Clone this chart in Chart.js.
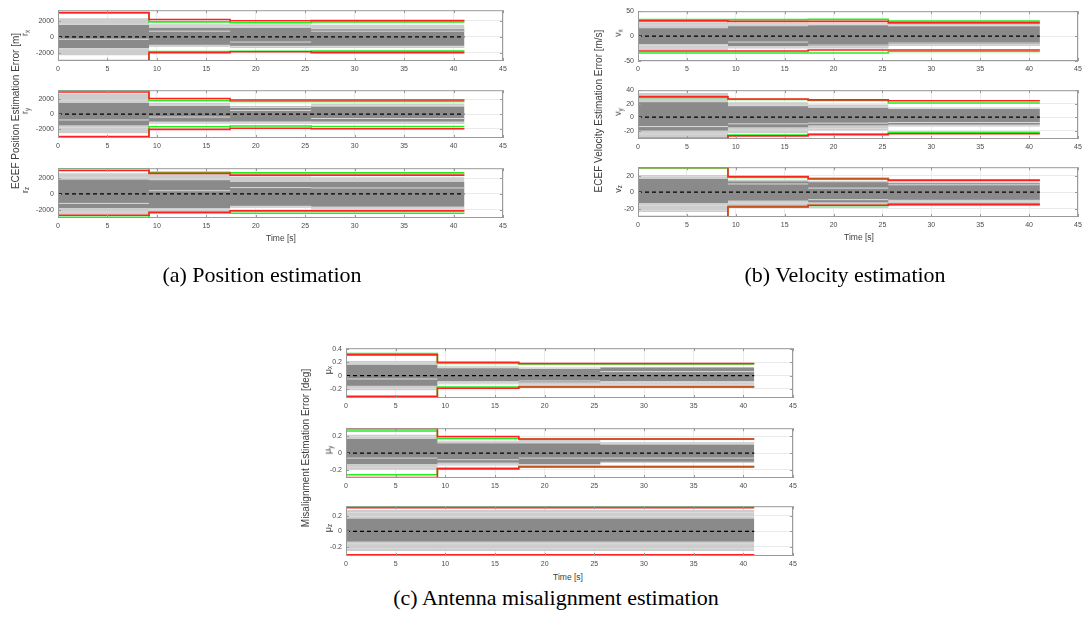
<!DOCTYPE html>
<html>
<head>
<meta charset="utf-8">
<script src="https://cdn.jsdelivr.net/npm/chart.js@4.4.0/dist/chart.umd.min.js"></script>
<style>
  html, body { margin: 0; padding: 0; background: #fff; width: 1089px; height: 627px; overflow: hidden; position: relative; }
  canvas { position: absolute; }
  .lbl { position: absolute; font-family: 'Liberation Sans', Arial, sans-serif; color: #3c3c3c; white-space: nowrap; transform: translate(-50%, -50%); }
  .rot { transform: translate(-50%, -50%) rotate(-90deg); }
  .cap { position: absolute; font-family: 'Liberation Serif', 'Times New Roman', serif; font-size: 22px; color: #000; white-space: nowrap; transform: translate(-50%, -50%); }
  sub { font-size: 70%; vertical-align: -0.25em; }
</style>
</head>
<body>
<script>
// --- data: segment change times and per-segment levels (upper row, lower row) ---
const segT = [0, 9.2, 17.4, 25.6, 41.1];
const xTicks = [0, 5, 10, 15, 20, 25, 30, 35, 40, 45];
const meanErr = [0, 0, 0, 0];

const rTicks = [-2000, 0, 2000];
const rxLim = [-3000, 3300];
const rxRed = [[3000, 2150, 2000, 2030], [-3000, -1960, -1850, -1960]];
const rxGreen = [[2980, 1850, 1740, 1850], [-2950, -1815, -1800, -1780]];
const rxOuter = [[2300, 1550, 1550, 1500], [-2300, -1250, -1400, -1400]];
const rxInner = [[1500, 1100, 1100, 1000], [-1400, -1000, -1100, -1100]];
const rxStreaks = [[1550, 1300, 1250, 1000], [-300, 700, -650, 700], [-1500, -1150, -1200, -1200]];

const ryLim = [-3250, 3250];
const ryRed = [[3000, 2120, 1925, 1925], [-3040, -2080, -1925, -2000]];
const ryGreen = [[3220, 1850, 1730, 1730], [-3250, -1730, -1620, -1690]];
const ryOuter = [[2800, 1500, 1100, 1450], [-2600, -1300, -1300, -1350]];
const ryInner = [[1500, 1100, 1000, 1000], [-1500, -1000, -1000, -1000]];
const ryStreaks = [[1900, 1250, 900, 1150], [-800, -400, 500, -600], [-1800, -1150, -1100, -1150]];

const rzLim = [-3050, 3250];
const rzRed = [[2960, 2590, 2370, 2370], [-2700, -2330, -2150, -2150]];
const rzGreen = [[3220, 2740, 2660, 2660], [-2960, -2400, -2440, -2440]];
const rzOuter = [[2600, 2480, 2200, 2100], [-2600, -2330, -1800, -2150]];
const rzInner = [[1800, 1740, 1500, 1500], [-1800, -1780, -1500, -1600]];
const rzStreaks = [[2100, 1900, 800, 750], [-1200, 400, -1650, -1800], [-2300, -2000, -1700, -1950]];

const vxTicks = [-50, 0, 50];
const vxLim = [-50, 50];
const vxRed = [[30.5, 29.5, 29.5, 26.5], [-30, -30, -28, -28]];
const vxGreen = [[33, 33, 33.5, 30], [-34, -34, -34, -31]];
const vxOuter = [[28, 27, 26, 25], [-28, -25, -25, -20]];
const vxInner = [[16, 20, 22, 20], [-16, -20, -22, -18]];
const vxStreaks = [[22, 24, 23, 21], [-19, -12, -18, -14], [-24, -22, -21, -17]];

const vyTicks = [-20, 0, 20, 40];
const vyLim = [-32.5, 40];
const vyRed = [[30.4, 27, 25.7, 24.4], [-31.3, -27.8, -26, -24.8]];
const vyGreen = [[29.1, 26.1, 24.8, 20.9], [-32.2, -26.5, -25.2, -22.6]];
const vyOuter = [[36, 22, 18.7, 14.4], [-30, -24, -20, -14]];
const vyInner = [[22, 16, 14, 12], [-20, -15, -12, -11]];
const vyStreaks = [[32, 18, 15, 13], [-14, -10, -9, -8], [-25, -19, -17, -13]];

const vzTicks = [-20, 0, 20];
const vzLim = [-30, 30.3];
const vzRed = [[30, 18.9, 16, 14.6], [-30, -17.9, -15.8, -15]];
const vzGreen = [[29.5, 17.8, 16.8, 14], [-29.5, -16.8, -16, -14]];
const vzOuter = [[21, 15, 14, 12], [-24, -19, -19, -16]];
const vzInner = [[16, 13, 12, 11], [-13, -10, -12, -9]];
const vzStreaks = [[19, 10, 5, 9], [-16, -13, -9, -11], [-22, -17, -17, -14]];

const mxTicks = [-0.2, 0, 0.2, 0.4];
const mxLim = [-0.335, 0.41];
const mxRed = [[0.31, 0.2, 0.18, 0.18], [-0.31, -0.19, -0.17, -0.17]];
const mxGreen = [[0.33, 0.18, 0.175, 0.175], [-0.33, -0.17, -0.165, -0.165]];
const mxOuter = [[0.22, 0.14, 0.12, 0.12], [-0.22, -0.13, -0.15, -0.15]];
const mxInner = [[0.16, 0.11, 0.1, 0.12], [-0.15, -0.08, -0.1, -0.08]];
const mxStreaks = [[0.19, 0.12, 0.11, 0.06], [-0.05, -0.12, -0.08, -0.1], [-0.19, -0.11, -0.13, -0.13]];

const myTicks = [-0.2, 0, 0.2];
const myLim = [-0.3, 0.3];
const myRed = [[0.295, 0.2, 0.17, 0.17], [-0.295, -0.19, -0.167, -0.167]];
const myGreen = [[0.266, 0.177, 0.17, 0.17], [-0.26, -0.18, -0.16, -0.16]];
const myOuter = [[0.22, 0.15, 0.16, 0.134], [-0.2, -0.15, -0.15, -0.113]];
const myInner = [[0.17, 0.117, 0.117, 0.1], [-0.13, -0.113, -0.13, -0.113]];
const myStreaks = [[0.2, 0.14, 0.13, 0.12], [-0.06, -0.08, -0.06, -0.06], [-0.17, -0.14, -0.14, -0.11]];

const mzTicks = [-0.2, 0, 0.2];
const mzLim = [-0.315, 0.32];
const mzRed = [[0.3, 0.3, 0.3, 0.3], [-0.3, -0.3, -0.3, -0.3]];
const mzGreen = [[0.32, 0.32, 0.32, 0.32], [-0.315, -0.315, -0.315, -0.315]];
const mzOuter = [[0.27, 0.27, 0.27, 0.27], [-0.25, -0.25, -0.25, -0.25]];
const mzInner = [[0.16, 0.16, 0.16, 0.16], [-0.13, -0.13, -0.13, -0.13]];
const mzStreaks = [[0.24, 0.24, 0.24, 0.24], [0.19, 0.19, 0.19, 0.19], [-0.16, -0.16, -0.16, -0.16], [-0.22, -0.22, -0.22, -0.22]];

// --- layout: plot-area pixel boxes [left, right, top, bottom] ---
const subplots = [
  { name: 'r', sub: 'x', red: rxRed, green: rxGreen, outer: rxOuter, inner: rxInner, streaks: rxStreaks, lim: rxLim, ticks: rTicks, box: [58, 503, 4, 61], lx: 25 },
  { name: 'r', sub: 'y', red: ryRed, green: ryGreen, outer: ryOuter, inner: ryInner, streaks: ryStreaks, lim: ryLim, ticks: rTicks, box: [58, 503, 84, 138], lx: 25 },
  { name: 'r', sub: 'z', red: rzRed, green: rzGreen, outer: rzOuter, inner: rzInner, streaks: rzStreaks, lim: rzLim, ticks: rTicks, box: [58, 503, 162, 218], lx: 25 },
  { name: 'v', sub: 'x', red: vxRed, green: vxGreen, outer: vxOuter, inner: vxInner, streaks: vxStreaks, lim: vxLim, ticks: vxTicks, box: [638, 1078, 5, 61], lx: 618 },
  { name: 'v', sub: 'y', red: vyRed, green: vyGreen, outer: vyOuter, inner: vyInner, streaks: vyStreaks, lim: vyLim, ticks: vyTicks, box: [638, 1078, 84, 139], lx: 618 },
  { name: 'v', sub: 'z', red: vzRed, green: vzGreen, outer: vzOuter, inner: vzInner, streaks: vzStreaks, lim: vzLim, ticks: vzTicks, box: [638, 1078, 161, 217], lx: 618 },
  { name: 'μ', sub: 'x', red: mxRed, green: mxGreen, outer: mxOuter, inner: mxInner, streaks: mxStreaks, lim: mxLim, ticks: mxTicks, box: [346, 793, 342, 398], lx: 328 },
  { name: 'μ', sub: 'y', red: myRed, green: myGreen, outer: myOuter, inner: myInner, streaks: myStreaks, lim: myLim, ticks: myTicks, box: [346, 793, 422, 478], lx: 328 },
  { name: 'μ', sub: 'z', red: mzRed, green: mzGreen, outer: mzOuter, inner: mzInner, streaks: mzStreaks, lim: mzLim, ticks: mzTicks, box: [346, 793, 500, 556], lx: 328 }
];

const texts = [
  { cls: 'lbl rot', x: 15, y: 111, size: 10, html: 'ECEF Position Estimation Error [m]' },
  { cls: 'lbl rot', x: 598, y: 111, size: 10, html: 'ECEF Velocity Estimation Error [m/s]' },
  { cls: 'lbl rot', x: 305, y: 448, size: 10, html: 'Misalignment Estimation Error [deg]' },
  { cls: 'lbl', x: 281, y: 238, size: 8.5, html: 'Time [s]' },
  { cls: 'lbl', x: 859, y: 237, size: 8.5, html: 'Time [s]' },
  { cls: 'lbl', x: 568, y: 577, size: 8.5, html: 'Time [s]' },
  { cls: 'cap', x: 262, y: 275, html: '(a) Position estimation' },
  { cls: 'cap', x: 845, y: 275, html: '(b) Velocity estimation' },
  { cls: 'cap', x: 556, y: 598, html: '(c) Antenna misalignment estimation' }
];

const PAD_L = 40, PAD_R = 14, PAD_T = 2, PAD_B = 16;
const tickFont = { family: "'Liberation Sans', Arial, sans-serif", size: 7 };

function steps(vals) {
  const pts = vals.map((v, i) => ({ x: segT[i], y: v }));
  pts.push({ x: segT[segT.length - 1], y: vals[vals.length - 1] });
  return pts;
}

// one flat piece per segment, broken by gaps (no vertical connectors)
function pieces(vals) {
  const pts = [];
  vals.forEach((v, i) => {
    if (i > 0) pts.push({ x: segT[i], y: null });
    pts.push({ x: segT[i], y: v }, { x: segT[i + 1], y: v });
  });
  return pts;
}

function line(vals, color, width, extra) {
  return Object.assign({
    data: steps(vals), borderColor: color, borderWidth: width,
    stepped: true, pointRadius: 0, fill: false
  }, extra || {});
}

const boxPlugin = {
  id: 'box',
  afterDatasetsDraw(chart) {
    const a = chart.chartArea, ctx = chart.ctx;
    ctx.save();
    ctx.strokeStyle = '#9a9a9a';
    ctx.lineWidth = 1;
    ctx.beginPath();
    chart.scales.x.ticks.forEach(t => {
      const px = Math.round(chart.scales.x.getPixelForValue(t.value)) + 0.5;
      ctx.moveTo(px, a.bottom); ctx.lineTo(px, a.bottom - 3);
      ctx.moveTo(px, a.top); ctx.lineTo(px, a.top + 3);
    });
    chart.scales.y.ticks.forEach(t => {
      const py = Math.round(chart.scales.y.getPixelForValue(t.value)) + 0.5;
      ctx.moveTo(a.left, py); ctx.lineTo(a.left + 3, py);
      ctx.moveTo(a.right, py); ctx.lineTo(a.right - 3, py);
    });
    ctx.stroke();
    ctx.strokeRect(a.left + 0.5, a.top + 0.5, a.right - a.left - 1, a.bottom - a.top - 1);
    ctx.restore();
  }
};

subplots.forEach(s => {
  const [x0, x1, y0, y1] = s.box;
  const cv = document.createElement('canvas');
  cv.width = x1 - x0 + PAD_L + PAD_R;
  cv.height = y1 - y0 + PAD_T + PAD_B;
  cv.style.left = (x0 - PAD_L) + 'px';
  cv.style.top = (y0 - PAD_T) + 'px';
  document.body.appendChild(cv);

  const clear = 'rgba(0,0,0,0)';
  // first dataset is drawn last (on top)
  const datasets = [
    line(s.red[0], '#ff2020', 1.6),
    line(s.red[1], '#ff2020', 1.6),
    line(s.green[0], '#20f020', 1.6),
    line(s.green[1], '#20f020', 1.6),
    line(meanErr, '#000', 1.3, { borderDash: [4, 3] }),
    ...s.streaks.map(r => line(r, '#dadada', 1, { data: pieces(r), stepped: false, spanGaps: false })),
    line(s.inner[0], clear, 0, { fill: '+1', backgroundColor: '#8a8a8a' }),
    line(s.inner[1], clear, 0),
    line(s.outer[0], clear, 0, { fill: '+1', backgroundColor: '#cdcdcd' }),
    line(s.outer[1], clear, 0)
  ];

  new Chart(cv.getContext('2d'), {
    type: 'line',
    data: { datasets },
    options: {
      responsive: false,
      animation: false,
      devicePixelRatio: 1,
      events: [],
      layout: { padding: { left: 0, right: PAD_R, top: PAD_T, bottom: 0 } },
      plugins: { legend: { display: false }, tooltip: { enabled: false } },
      scales: {
        x: {
          type: 'linear', min: 0, max: 45,
          afterFit: sc => { sc.height = PAD_B; },
          afterBuildTicks: sc => { sc.ticks = xTicks.map(v => ({ value: v })); },
          grid: { color: '#ebebeb', drawTicks: false },
          border: { display: false },
          ticks: { font: tickFont, color: '#4a4a4a', padding: 4, maxRotation: 0, autoSkip: false, callback: v => String(v) }
        },
        y: {
          type: 'linear', min: s.lim[0], max: s.lim[1],
          afterFit: sc => { sc.width = PAD_L; },
          afterBuildTicks: sc => { sc.ticks = s.ticks.map(v => ({ value: v })); },
          grid: { color: '#ebebeb', drawTicks: false },
          border: { display: false },
          ticks: { font: tickFont, color: '#4a4a4a', padding: 4, autoSkip: false, callback: v => String(v) }
        }
      }
    },
    plugins: [boxPlugin]
  });

  const lab = document.createElement('div');
  lab.className = 'lbl rot';
  lab.style.left = s.lx + 'px';
  lab.style.top = ((y0 + y1) / 2) + 'px';
  lab.style.fontSize = '9px';
  lab.innerHTML = s.name + '<sub>' + s.sub + '</sub>';
  document.body.appendChild(lab);
});

texts.forEach(t => {
  const d = document.createElement('div');
  d.className = t.cls;
  d.style.left = t.x + 'px';
  d.style.top = t.y + 'px';
  if (t.size) d.style.fontSize = t.size + 'px';
  d.innerHTML = t.html;
  document.body.appendChild(d);
});
</script>
</body>
</html>
